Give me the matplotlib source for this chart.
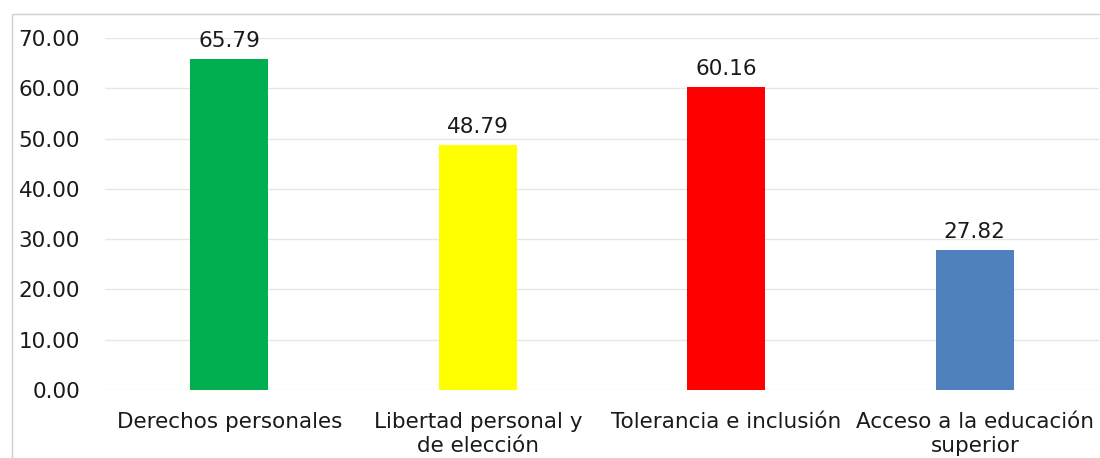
import matplotlib
matplotlib.use("Agg")
import matplotlib.pyplot as plt
from matplotlib.patches import Rectangle

categories = ["Derechos personales", "Libertad personal y\nde elección",
              "Tolerancia e inclusión", "Acceso a la educación\nsuperior"]
values = [65.79, 48.79, 60.16, 27.82]
colors = ["#00b050", "#ffff00", "#ff0000", "#4f81bd"]
yticks = [0, 10, 20, 30, 40, 50, 60, 70]

plt.rcParams['font.family'] = ['DejaVu Sans']
fig = plt.figure(figsize=(11, 4.58), dpi=100)
fig.patches.append(Rectangle((12/1100, -0.1), 1.2, 1 - 14/458 + 0.1, transform=fig.transFigure,
                             fill=False, edgecolor="#d0d0d0", linewidth=1))
ax = fig.add_axes([105/1100, 1 - 390/458, 994/1100, (390 - 38)/458])
x = list(range(len(categories)))
bars = ax.bar(x, values, width=0.315, color=colors, zorder=3)
for xi, v in zip(x, values):
    ax.text(xi, v + 1.6, f"{v:.2f}", ha="center", va="bottom", fontsize=15.5, color="#1a1a1a")
ax.set_xlim(-0.5, len(categories) - 0.5)
ax.set_ylim(0, 70)
ax.set_yticks(yticks)
ax.set_yticklabels([f"{t:.2f}" for t in yticks], fontsize=15.5, color="#1a1a1a")
ax.set_xticks(x)
ax.set_xticklabels(categories, fontsize=15.5, color="#1a1a1a", linespacing=1.25)
ax.tick_params(axis="both", length=0)
ax.tick_params(axis="y", pad=18)
ax.tick_params(axis="x", pad=16)
for s in ax.spines.values():
    s.set_visible(False)
ax.yaxis.grid(True, color="#e6e6e6", linewidth=1, zorder=0)
ax.set_axisbelow(True)
fig.savefig("out.png", dpi=100)
